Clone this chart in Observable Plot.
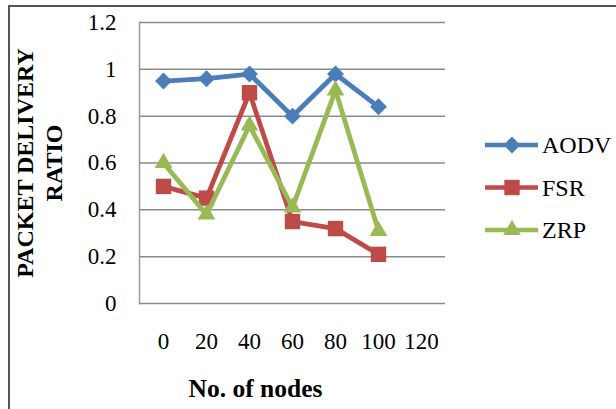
<!DOCTYPE html>
<html>
<head>
<meta charset="utf-8">
<script src="https://cdn.jsdelivr.net/npm/d3@7"></script>
<script src="https://cdn.jsdelivr.net/npm/@observablehq/plot@0.6"></script>
<style>
  html, body { margin: 0; padding: 0; background: #fff; overflow: hidden; }
  #wrap { position: relative; width: 616px; height: 409px; overflow: hidden; }
  #border { position: absolute; left: 8px; top: 5px; width: 700px; height: 500px;
            border-left: 2px solid #555; border-top: 2px solid #555; box-sizing: border-box; }
  #chart { position: absolute; left: 0; top: 0; }
  #legend { position: absolute; left: 0; top: 0; pointer-events: none; }
</style>
</head>
<body>
<div id="wrap">
  <div id="border"></div>
  <div id="chart"></div>
  <svg id="legend" width="616" height="409"></svg>
</div>
<script>
// Number of nodes (category axis)
const nodes = ["0", "20", "40", "60", "80", "100", "120"];

// Packet delivery ratio per protocol
const aodv = [0.95, 0.96, 0.98, 0.80, 0.98, 0.84];
const fsr  = [0.50, 0.45, 0.90, 0.35, 0.32, 0.21];
const zrp  = [0.60, 0.38, 0.76, 0.41, 0.91, 0.31];

const protocols = ["AODV", "FSR", "ZRP"];
const colors = ["#4A7EBB", "#BE4B48", "#98B954"];
const symbols = ["diamond2", "square2", "triangle2"];
const radii = [7.6, 9.8, 8.4];

const yTicks = [0, 0.2, 0.4, 0.6, 0.8, 1, 1.2];
const yTitle = "PACKET DELIVERY\nRATIO";
const xTitle = "No. of nodes";

const seriesValues = [aodv, fsr, zrp];
const series = protocols.map((p, i) => ({
  name: p,
  color: colors[i],
  symbol: symbols[i],
  r: radii[i],
  rows: seriesValues[i].map((v, j) => ({ protocol: p, nodes: nodes[j], value: v }))
}));

const font = "'Liberation Serif', 'Times New Roman', serif";

const seriesMarks = series.flatMap(s => [
  Plot.line(s.rows, { x: "nodes", y: "value", stroke: s.color, strokeWidth: 4.8, strokeLinejoin: "miter" }),
  Plot.dot(s.rows, { x: "nodes", y: "value", symbol: s.symbol, r: s.r, fill: s.color, stroke: "none" })
]);

const chart = Plot.plot({
  width: 616,
  height: 409,
  marginLeft: 139,
  marginRight: 171,
  marginTop: 22,
  marginBottom: 106,
  style: { fontFamily: font, fontSize: "23px", color: "#000", background: "transparent", overflow: "visible" },
  x: { type: "point", domain: nodes, padding: 0.5 },
  y: { domain: [0, 1.2] },
  marks: [
    Plot.gridY(yTicks, { stroke: "#8a8a8a", strokeOpacity: 1, strokeWidth: 1.5 }),
    Plot.frame({ anchor: "left", stroke: "#9a9a9a", strokeWidth: 1.5 }),
    Plot.axisY(yTicks, { tickSize: 0, tickPadding: 23, tickFormat: d => String(d), label: null, fontSize: 23, fill: "#000" }),
    Plot.axisX({ tickSize: 0, tickPadding: 29, label: null, fontSize: 23, fill: "#000" }),
    ...seriesMarks,
    Plot.text([yTitle], { text: d => d, frameAnchor: "left", textAnchor: "middle", lineAnchor: "middle", dx: -101, rotate: -90, fontWeight: "bold", fontSize: 24, lineHeight: 1.18, letterSpacing: "-0.3px", fill: "#000" }),
    Plot.text([xTitle], { text: d => d, frameAnchor: "bottom", textAnchor: "middle", dx: -37, dy: 93, fontWeight: "bold", fontSize: 25.5, fill: "#000" })
  ]
});
document.getElementById("chart").appendChild(chart);

// Legend: line segment with marker, then the protocol name
const legend = d3.select("#legend");
const symbolTypes = { diamond2: d3.symbolDiamond2, square2: d3.symbolSquare2, triangle2: d3.symbolTriangle2 };
const item = legend.selectAll("g").data(series).join("g")
  .attr("transform", (d, i) => `translate(485, ${145 + i * 42.5})`);
item.append("line").attr("x1", 0).attr("x2", 53).attr("stroke", d => d.color).attr("stroke-width", 4.5);
item.append("path")
  .attr("transform", "translate(27,0)")
  .attr("d", d => d3.symbol(symbolTypes[d.symbol], Math.PI * d.r * d.r)())
  .attr("fill", d => d.color);
item.append("text").attr("x", 57).attr("dy", "0.35em")
  .attr("font-family", font).attr("font-size", 24).attr("fill", "#000")
  .text(d => d.name);
</script>
</body>
</html>
